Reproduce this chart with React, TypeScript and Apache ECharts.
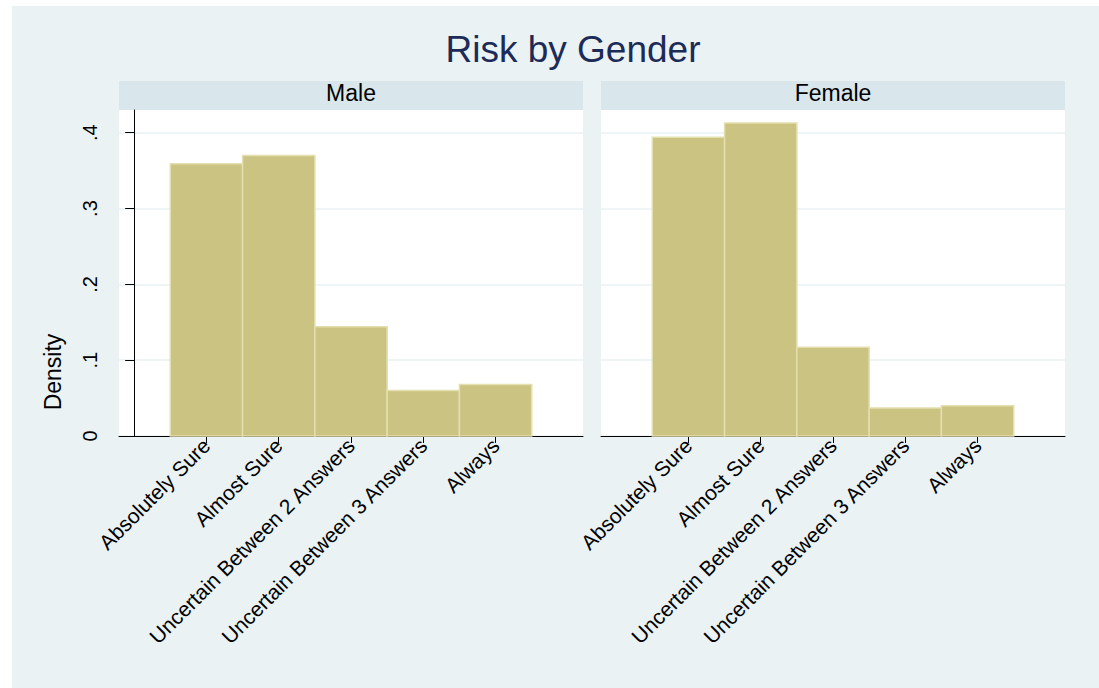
import React, { useEffect, useRef } from "react";
import * as echarts from "echarts";

const categories = [
  "Absolutely Sure",
  "Almost Sure",
  "Uncertain Between 2 Answers",
  "Uncertain Between 3 Answers",
  "Always",
];
const categoryValues = [1, 2, 3, 4, 5];
const maleDensity = [0.359, 0.37, 0.144, 0.06, 0.068];
const femaleDensity = [0.394, 0.413, 0.117, 0.037, 0.04];
const yTickValues = [0, 0.1, 0.2, 0.3, 0.4];
const yTickLabels = ["0", ".1", ".2", ".3", ".4"];
const panelNames = ["Male", "Female"];
const titleText = "Risk by Gender";
const yAxisName = "Density";

const FONT = "'Liberation Sans', Arial, Helvetica, sans-serif";

export default function App() {
  const ref = useRef<HTMLDivElement>(null);

  useEffect(() => {
    if (!ref.current) return;
    const chart = echarts.init(ref.current, undefined, { renderer: "svg" });

    const grids = [
      { left: 119, top: 110, width: 464, height: 326 },
      { left: 601, top: 110, width: 464, height: 326 },
    ];

    const renderItem = (params: any, api: any) => {
      const x = api.value(0);
      const v = api.value(1);
      const p1 = api.coord([x - 0.5, v]);
      const p2 = api.coord([x + 0.5, 0]);
      return {
        type: "rect",
        shape: { x: p1[0], y: p1[1], width: p2[0] - p1[0], height: p2[1] - p1[1] },
        style: { fill: "#cbc382", stroke: "#e3dfae", lineWidth: 1.5 },
      };
    };

    const xAxisBase = (gridIndex: number) => ({
      type: "value",
      gridIndex,
      min: -0.21,
      max: 6.21,
      axisLine: { show: true, onZero: false, lineStyle: { color: "#000", width: 1 } },
      axisTick: { show: true, length: 7, customValues: categoryValues, lineStyle: { color: "#000" } },
      axisLabel: {
        customValues: categoryValues,
        rotate: 45,
        margin: 6,
        color: "#000",
        fontSize: 21,
        fontFamily: FONT,
        formatter: (v: number) => categories[Math.round(v) - 1] ?? "",
      },
      splitLine: { show: false },
    });

    const yAxisBase = (gridIndex: number, show: boolean) => ({
      type: "value",
      gridIndex,
      min: 0,
      max: 0.43,
      interval: 0.1,
      axisLine: { show, lineStyle: { color: "#000", width: 1 } },
      axisTick: { show, length: 9, customValues: yTickValues, lineStyle: { color: "#000" } },
      axisLabel: {
        show,
        customValues: yTickValues,
        rotate: 90,
        margin: 19,
        color: "#000",
        fontSize: 20,
        fontFamily: FONT,
        formatter: (v: number) => {
          const i = yTickValues.findIndex((t) => Math.abs(t - v) < 1e-9);
          return i >= 0 ? yTickLabels[i] : "";
        },
      },
      splitLine: { show: true, lineStyle: { color: "#eaf2f3", width: 1.5 } },
    });

    chart.setOption({
      animation: false,
      backgroundColor: "#eaf2f3",
      grid: grids.map((g) => ({ ...g, show: true, backgroundColor: "#ffffff", borderWidth: 0 })),
      xAxis: [xAxisBase(0), xAxisBase(1)],
      yAxis: [yAxisBase(0, true), yAxisBase(1, false)],
      series: [maleDensity, femaleDensity].map((vals, i) => ({
        type: "custom",
        xAxisIndex: i,
        yAxisIndex: i,
        renderItem,
        encode: { x: 0, y: 1 },
        data: categoryValues.map((c, j) => [c, vals[j]]),
      })),
      graphic: [
        { type: "rect", shape: { x: 0, y: 0, width: 12, height: 688 }, style: { fill: "#ffffff" }, z: -1 },
        { type: "rect", shape: { x: 0, y: 0, width: 1099, height: 6 }, style: { fill: "#ffffff" }, z: -1 },
        ...grids.map((g) => ({
          type: "rect",
          shape: { x: g.left, y: 81, width: g.width, height: 29 },
          style: { fill: "#d9e6eb" },
          z: -1,
        })),
        ...grids.map((g, i) => ({
          type: "text",
          x: g.left + g.width / 2,
          y: 93,
          style: {
            text: panelNames[i],
            fill: "#000",
            fontSize: 23,
            fontFamily: FONT,
            textAlign: "center",
            textVerticalAlign: "middle",
            align: "center",
            verticalAlign: "middle",
          },
        })),
        {
          type: "text",
          x: 573,
          y: 49,
          style: {
            text: titleText,
            fill: "#1c2b58",
            fontSize: 37,
            fontFamily: FONT,
            textAlign: "center",
            textVerticalAlign: "middle",
            align: "center",
            verticalAlign: "middle",
          },
        },
        {
          type: "text",
          x: 53,
          y: 372,
          rotation: Math.PI / 2,
          style: {
            text: yAxisName,
            fill: "#000",
            fontSize: 23,
            fontFamily: FONT,
            textAlign: "center",
            textVerticalAlign: "middle",
            align: "center",
            verticalAlign: "middle",
          },
        },
      ],
    });

    return () => chart.dispose();
  }, []);

  return (
    <div
      ref={ref}
      style={{ position: "fixed", left: 0, top: 0, width: 1099, height: 688 }}
    />
  );
}
